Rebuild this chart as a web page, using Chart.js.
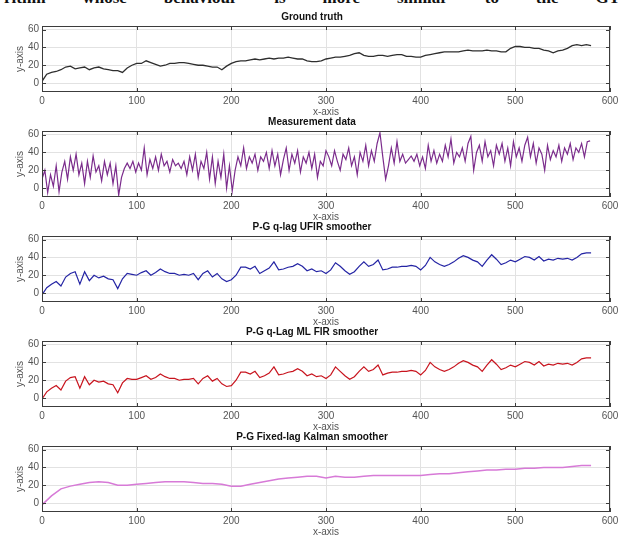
<!DOCTYPE html>
<html><head><meta charset="utf-8">
<script src="https://cdn.jsdelivr.net/npm/chart.js@4.4.1/dist/chart.umd.min.js"></script>
<style>
html,body{margin:0;padding:0;background:#fff;width:624px;height:538px;overflow:hidden;position:relative;}
canvas{position:absolute;left:0;}
#cut{position:absolute;left:4px;top:-12px;width:616px;display:flex;justify-content:space-between;font:bold 17px "Liberation Serif",serif;color:#111;}
</style></head><body>
<div id="cut"><span>rithm</span><span>whose</span><span>behaviour</span><span>is</span><span>more</span><span>similar</span><span>to</span><span>the</span><span>GT</span></div>
<canvas id="c0" width="624" height="115"></canvas>
<canvas id="c1" width="624" height="115"></canvas>
<canvas id="c2" width="624" height="115"></canvas>
<canvas id="c3" width="624" height="115"></canvas>
<canvas id="c4" width="624" height="115"></canvas>
<script>
// ---- data ----
const titles = ["Ground truth","Measurement data","P-G q-lag UFIR smoother","P-G q-Lag ML FIR smoother","P-G Fixed-lag Kalman smoother"];
const xTicks = [0,100,200,300,400,500,600];
const yTicks = [0,20,40,60];

const gtStep = 5;
const groundTruth = [2,10,12,13,15,18,19,16,17,18,15,17,18,16,15,14,14,12,17,20,
 22,22,25,23,21,19,20,22,22,23,23,22,21,20,20,19,18,18,15,19,
 22,24,25,25,26,27,26,27,28,27,28,28,29,28,27,27,25,24,24,25,
 27,28,29,29,30,31,33,34,31,30,30,31,31,30,31,32,32,30,30,29,
 29,31,32,33,34,35,35,35,35,36,37,36,36,36,37,36,36,35,35,39,
 41,41,40,40,39,39,37,36,34,36,37,39,42,43,42,43,42];

const measStep = 3;
const measurement = [10,20,-5,15,2,25,-4,18,30,10,35,
 20,38,15,28,5,30,12,36,18,25,
 8,30,15,28,5,25,-8,12,22,28,
 22,30,18,28,20,45,15,32,22,35,
 20,38,25,30,18,32,25,28,22,30,
 15,35,20,38,12,30,22,40,10,35,
 5,30,12,38,0,25,-3,20,35,25,
 45,22,35,28,38,20,35,30,40,22,
 42,25,38,15,32,45,20,38,28,42,
 18,35,28,40,22,38,12,30,25,42,
 35,25,42,30,20,38,32,45,25,35,
 15,40,30,48,25,42,30,50,62,35,
 10,25,45,28,52,30,38,28,32,36,
 30,38,25,35,22,48,30,42,28,38,
 30,48,35,55,28,40,35,45,30,50,
 58,20,40,48,30,52,35,42,25,48,
 38,50,30,45,25,52,35,45,30,48,
 57,35,50,28,45,38,20,48,32,42,
 35,48,30,45,38,50,32,45,40,50,
 35,52,53];

const ufirStep = 5;
const ufir = [-2,6,10,13,8,18,22,24,10,24,14,20,17,19,16,15,5,16,22,21,
 20,23,25,20,23,27,24,22,22,20,21,20,22,15,22,25,18,22,16,13,
 15,20,29,29,27,30,22,25,28,35,26,27,29,30,33,30,25,27,24,25,
 22,26,34,30,25,21,24,30,35,30,32,37,26,27,29,29,30,30,31,30,
 26,31,40,35,32,30,32,35,39,42,40,37,35,30,37,43,38,32,34,37,
 35,38,41,40,37,41,36,38,37,39,38,39,37,40,44,45,45];

const mlStep = 5;
const mlfir = [-1,7,11,14,9,19,23,24,11,24,15,20,18,19,16,15,6,17,22,21,
 21,23,25,21,23,27,24,22,22,20,21,21,22,16,22,25,19,22,16,13,
 14,20,29,29,27,30,23,25,28,35,26,27,29,30,33,30,25,27,24,25,
 22,26,35,30,25,21,24,30,35,30,32,37,26,28,29,29,30,30,31,30,
 26,31,40,35,32,30,32,35,39,42,40,37,35,30,37,43,38,32,34,37,
 35,38,41,40,37,41,36,38,37,39,38,39,37,40,44,45,45];

const kfStep = 10;
const kalman = [-2,8,16,19,21,23,24,23,20,20,21,22,23,24,24,24,23,22,22,21,
 19,19,21,23,25,27,28,29,30,30,28,30,29,29,30,31,31,31,31,31,
 31,32,33,33,34,35,36,37,37,38,38,39,39,40,40,40,41,42,42];

const seriesList = [
  {vals: groundTruth, step: gtStep, color: '#2e2e2e', w: 1.3},
  {vals: measurement, step: measStep, color: '#7b2c8c', w: 1.2},
  {vals: ufir, step: ufirStep, color: '#2424a4', w: 1.2},
  {vals: mlfir, step: mlStep, color: '#c8141e', w: 1.2},
  {vals: kalman, step: kfStep, color: '#d77ad7', w: 1.5}
];

// ---- drawing ----
const boxPlugin = {
  id: 'box',
  afterDraw(chart) {
    const {ctx, chartArea: a, scales: {x, y}} = chart;
    ctx.save();
    ctx.strokeStyle = '#3c3c3c';
    ctx.lineWidth = 1;
    ctx.strokeRect(a.left + 0.5, a.top + 0.5, a.right - a.left - 1, a.bottom - a.top - 1);
    const L = 4;
    ctx.beginPath();
    x.ticks.forEach(t => {
      const px = Math.round(x.getPixelForValue(t.value)) + 0.5;
      ctx.moveTo(px, a.bottom); ctx.lineTo(px, a.bottom - L);
      ctx.moveTo(px, a.top); ctx.lineTo(px, a.top + L);
    });
    y.ticks.forEach(t => {
      const py = Math.round(y.getPixelForValue(t.value)) + 0.5;
      ctx.moveTo(a.left, py); ctx.lineTo(a.left + L, py);
      ctx.moveTo(a.right, py); ctx.lineTo(a.right - L, py);
    });
    ctx.stroke();
    ctx.restore();
  }
};

const tickFont = {family: '"Liberation Sans", Arial, sans-serif', size: 10};

seriesList.forEach((s, k) => {
  const cv = document.getElementById('c' + k);
  cv.style.top = (105 * k + 5) + 'px';
  const pts = s.vals.map((v, i) => ({x: i * s.step, y: v}));
  new Chart(cv, {
    type: 'line',
    data: {datasets: [{data: pts, borderColor: s.color, borderWidth: s.w, pointRadius: 0, tension: 0, fill: false}]},
    options: {
      responsive: false, animation: false, devicePixelRatio: 1,
      layout: {padding: {top: 6, left: 14, right: 14, bottom: 2}},
      plugins: {
        legend: {display: false}, tooltip: {enabled: false},
        title: {display: true, text: titles[k], color: '#111',
          font: {family: '"Liberation Sans", Arial, sans-serif', size: 10, weight: 'bold'},
          padding: {top: 0, bottom: 3}}
      },
      scales: {
        x: {type: 'linear', min: 0, max: 600,
          afterBuildTicks: sc => { sc.ticks = xTicks.map(v => ({value: v})); },
          afterFit: sc => { sc.height = 26; },
          grid: {color: '#e2e2e2', drawTicks: false},
          border: {display: false},
          ticks: {color: '#555', font: tickFont, padding: 3, maxRotation: 0},
          title: {display: true, text: 'x-axis', color: '#555', font: tickFont, padding: {top: 0, bottom: 0}}
        },
        y: {type: 'linear', min: -10, max: 64,
          afterBuildTicks: sc => { sc.ticks = yTicks.map(v => ({value: v})); },
          afterFit: sc => { sc.width = 28; },
          grid: {color: '#e2e2e2', drawTicks: false},
          border: {display: false},
          ticks: {color: '#555', font: tickFont, padding: 3},
          title: {display: true, text: 'y-axis', color: '#555', font: tickFont, padding: {top: 0, bottom: 0}}
        }
      }
    },
    plugins: [boxPlugin]
  });
});
</script>
</body></html>
